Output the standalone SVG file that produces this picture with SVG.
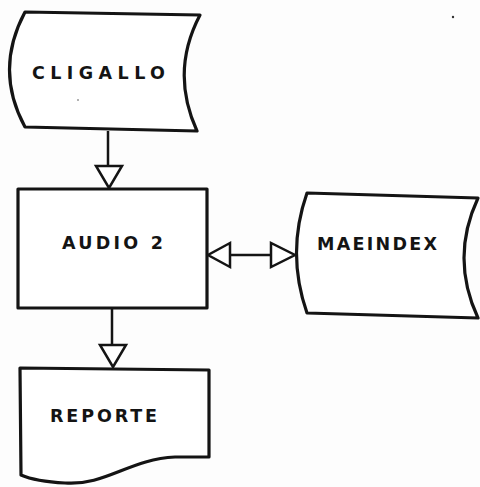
<svg xmlns="http://www.w3.org/2000/svg" width="480" height="487" viewBox="0 0 480 487">
  <defs>
    <style>
      .shape { fill: #ffffff; stroke: #141414; stroke-width: 3.2; stroke-linejoin: round; }
      .line { fill: none; stroke: #141414; stroke-width: 2.5; }
      .head { fill: #ffffff; stroke: #141414; stroke-width: 2.5; stroke-linejoin: miter; }
      .label { font-family: "DejaVu Sans", "Liberation Sans", sans-serif; font-weight: bold; font-size: 17.5px; fill: #141414; }
    </style>
  </defs>
  <rect x="0" y="0" width="480" height="487" fill="#fdfdfd"/>

  <!-- connectors -->
  <g id="connectors">
    <line class="line" x1="108" y1="131" x2="108" y2="166"/>
    <polygon class="head" points="96,166 122,166 109,188"/>
    <line class="line" x1="112" y1="308" x2="112" y2="345"/>
    <polygon class="head" points="100,345 126,345 113,367"/>
    <line class="line" x1="230" y1="255" x2="271" y2="255"/>
    <polygon class="head" points="230,243 230,267 208,255"/>
    <polygon class="head" points="271,243 271,267 295,255"/>
  </g>

  <!-- stored data: CLIGALLO -->
  <g id="cligallo">
    <path class="shape" d="M25,12 L200,15 Q170,72 197,131 L25,127 Q-6,70 25,12 Z"/>
    <text class="label" x="32" y="79" textLength="133" lengthAdjust="spacing">CLIGALLO</text>
  </g>

  <!-- process: AUDIO 2 -->
  <g id="audio2">
    <rect class="shape" x="18" y="189" width="189" height="119"/>
    <text class="label" x="62" y="249" textLength="101" lengthAdjust="spacing">AUDIO 2</text>
  </g>

  <!-- stored data: MAEINDEX -->
  <g id="maeindex">
    <path class="shape" d="M307,193 L478,198 Q450,258 478,318 L307,313 Q286,253 307,193 Z"/>
    <text class="label" x="317" y="250" textLength="120" lengthAdjust="spacing">MAEINDEX</text>
  </g>

  <!-- document: REPORTE -->
  <g id="reporte">
    <path class="shape" d="M20,368 L209,370 L209,457 L175,457 C130,459 105,486 65,483 C45,482 30,479 21,475 Z"/>
    <text class="label" x="50" y="422" textLength="107" lengthAdjust="spacing">REPORTE</text>
  </g>

  <!-- stray marks -->
  <circle cx="453" cy="17" r="1.2" fill="#333"/>
  <circle cx="78" cy="100" r="1" fill="#999"/>
</svg>
